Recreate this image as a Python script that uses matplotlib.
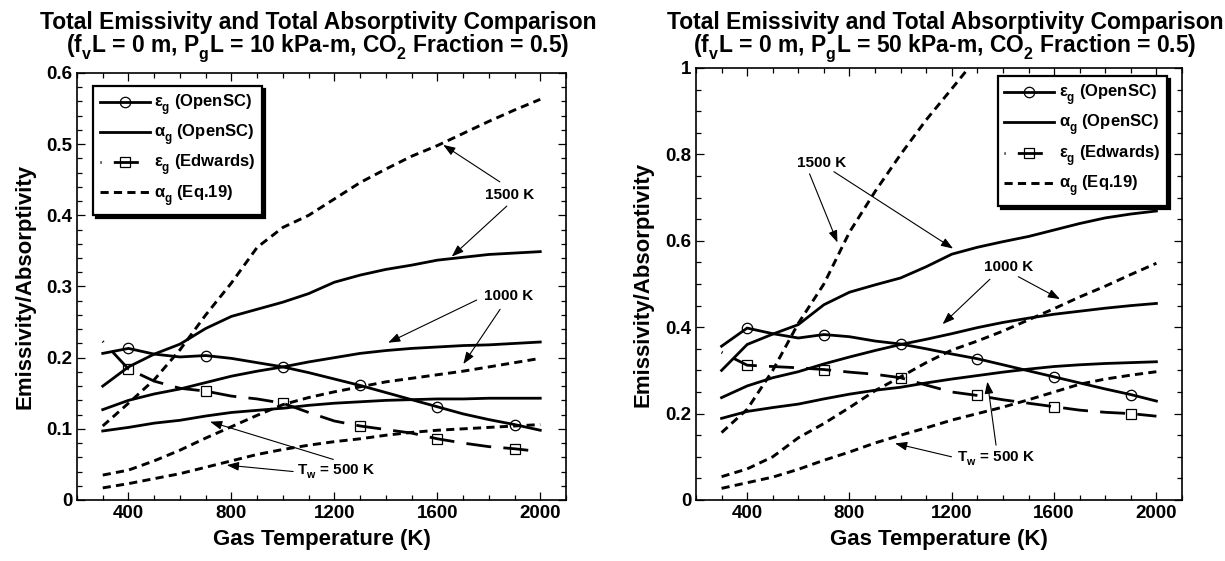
import matplotlib
matplotlib.use("Agg")
import matplotlib.pyplot as plt
from matplotlib.ticker import MultipleLocator, FuncFormatter

plt.rcParams["font.family"] = ["Liberation Sans", "DejaVu Sans"]
plt.rcParams["font.weight"] = "bold"
plt.rcParams["mathtext.fontset"] = "custom"
plt.rcParams["mathtext.rm"] = "Liberation Sans:bold"
plt.rcParams["mathtext.it"] = "Liberation Sans:bold"
plt.rcParams["mathtext.bf"] = "Liberation Sans:bold"
plt.rcParams["mathtext.sf"] = "Liberation Sans:bold"

# drop subscripts lower, as in the original figure
try:
    from matplotlib import _mathtext
    _mathtext.FontConstantsBase.subdrop = 0.9
    _mathtext.FontConstantsBase.sub1 = 0.6
except Exception:
    pass

# ---------------- data ----------------
T = [300, 400, 500, 600, 700, 800, 900, 1000, 1100, 1200,
     1300, 1400, 1500, 1600, 1700, 1800, 1900, 2000]
T_short = [300, 400, 500, 600, 700, 800, 900, 1000, 1100, 1200, 1300]

# left panel: PgL = 10 kPa-m
eps_osc_L = [0.206, 0.213, 0.205, 0.201, 0.203, 0.199, 0.193, 0.187, 0.179, 0.170,
             0.161, 0.151, 0.141, 0.131, 0.121, 0.113, 0.106, 0.098]
eps_edw_L = [0.223, 0.184, 0.167, 0.157, 0.153, 0.146, 0.142, 0.136, 0.123, 0.111,
             0.104, 0.099, 0.094, 0.086, 0.080, 0.075, 0.072, 0.068]
a1500_L = [0.160, 0.187, 0.205, 0.219, 0.241, 0.258, 0.268, 0.278, 0.290, 0.306,
           0.316, 0.324, 0.330, 0.337, 0.341, 0.345, 0.347, 0.349]
a1000_L = [0.127, 0.140, 0.149, 0.156, 0.165, 0.174, 0.181, 0.187, 0.194, 0.200,
           0.206, 0.210, 0.213, 0.215, 0.217, 0.218, 0.220, 0.222]
a500_L = [0.097, 0.102, 0.108, 0.112, 0.118, 0.123, 0.126, 0.129, 0.133, 0.136,
          0.138, 0.140, 0.141, 0.142, 0.142, 0.143, 0.143, 0.143]
eq1500_L = [0.104, 0.136, 0.169, 0.211, 0.260, 0.305, 0.355, 0.383, 0.400, 0.423,
            0.446, 0.465, 0.483, 0.498, 0.515, 0.532, 0.548, 0.563]
eq1000_L = [0.035, 0.042, 0.055, 0.070, 0.087, 0.103, 0.119, 0.134, 0.144, 0.152,
            0.159, 0.166, 0.171, 0.176, 0.181, 0.187, 0.193, 0.199]
eq500_L = [0.017, 0.023, 0.030, 0.037, 0.046, 0.055, 0.064, 0.071, 0.077, 0.082,
           0.086, 0.091, 0.095, 0.098, 0.100, 0.102, 0.104, 0.106]

# right panel: PgL = 50 kPa-m
eps_osc_R = [0.356, 0.398, 0.385, 0.375, 0.383, 0.378, 0.368, 0.361, 0.350, 0.338,
             0.327, 0.313, 0.299, 0.285, 0.271, 0.257, 0.244, 0.229]
eps_edw_R = [0.342, 0.312, 0.309, 0.306, 0.302, 0.296, 0.291, 0.283, 0.266, 0.250,
             0.242, 0.232, 0.224, 0.216, 0.208, 0.203, 0.200, 0.194]
a1500_R = [0.300, 0.360, 0.384, 0.406, 0.452, 0.481, 0.498, 0.514, 0.540, 0.569,
           0.585, 0.598, 0.610, 0.625, 0.640, 0.653, 0.662, 0.669]
a1000_R = [0.237, 0.264, 0.283, 0.297, 0.315, 0.331, 0.346, 0.360, 0.372, 0.385,
           0.399, 0.411, 0.421, 0.430, 0.437, 0.444, 0.450, 0.455]
a500_R = [0.189, 0.205, 0.214, 0.222, 0.234, 0.245, 0.254, 0.261, 0.271, 0.280,
          0.288, 0.296, 0.303, 0.309, 0.313, 0.316, 0.318, 0.320]
eq1500_R = [0.156, 0.210, 0.300, 0.409, 0.500, 0.620, 0.714, 0.800, 0.880, 0.952, 1.025]
eq1000_R = [0.054, 0.072, 0.100, 0.144, 0.177, 0.214, 0.253, 0.285, 0.318, 0.347,
            0.368, 0.391, 0.417, 0.443, 0.470, 0.495, 0.522, 0.548]
eq500_R = [0.027, 0.040, 0.053, 0.071, 0.092, 0.111, 0.132, 0.150, 0.167, 0.185,
           0.200, 0.215, 0.232, 0.250, 0.268, 0.280, 0.289, 0.297]

MARK_IDX = [1, 4, 7, 10, 13, 16]  # markers at 400, 700, ..., 1900 K

TITLE1 = "Total Emissivity and Total Absorptivity Comparison"
TITLE2_L = r"(f$_\mathrm{v}$L = 0 m, P$_\mathrm{g}$L = 10 kPa-m, CO$_\mathrm{2}$ Fraction = 0.5)"
TITLE2_R = r"(f$_\mathrm{v}$L = 0 m, P$_\mathrm{g}$L = 50 kPa-m, CO$_\mathrm{2}$ Fraction = 0.5)"

LAB_EPS_OSC = r"$\varepsilon_\mathrm{g}$ (OpenSC)"
LAB_ALP_OSC = r"$\alpha_\mathrm{g}$ (OpenSC)"
LAB_EPS_EDW = r"$\varepsilon_\mathrm{g}$ (Edwards)"
LAB_ALP_EQ = r"$\alpha_\mathrm{g}$ (Eq.19)"

LW = 2.0
LW_DASH = 2.1
DASH = (0, (2.8, 1.8))
LONGDASH = (8.6, (9.0, 4.4))


def draw_panel(ax, eps_osc, eps_edw, a_osc, eq, T_eq1500):
    ax.plot(T, eps_osc, color="k", lw=LW, marker="o", markevery=MARK_IDX, ms=7.5,
            mfc="none", mec="k", mew=0.9, label=LAB_EPS_OSC)
    for i, a in enumerate(a_osc):
        ax.plot(T, a, color="k", lw=LW, label=LAB_ALP_OSC if i == 0 else None)
    ax.plot(T, eps_edw, color="k", lw=LW, ls=LONGDASH, marker="s", markevery=MARK_IDX,
            ms=7, mfc="none", mec="k", mew=0.9, label=LAB_EPS_EDW)
    for i, (tt, e) in enumerate(zip([T_eq1500, T, T], eq)):
        ax.plot(tt, e, color="k", lw=LW_DASH, ls=DASH, label=LAB_ALP_EQ if i == 0 else None)

    ax.set_xlim(200, 2100)
    ax.xaxis.set_major_locator(MultipleLocator(400))
    ax.xaxis.set_minor_locator(MultipleLocator(100))
    ax.yaxis.set_major_formatter(FuncFormatter(lambda v, p: "%g" % round(v, 3)))
    ax.tick_params(which="both", direction="in", top=True, right=True, width=0.9,
                   labelsize=13.5)
    ax.tick_params(which="major", length=6)
    ax.tick_params(which="minor", length=3.5)
    for s in ax.spines.values():
        s.set_linewidth(1.2)
    for lab in ax.get_xticklabels() + ax.get_yticklabels():
        lab.set_fontweight("bold")
    ax.set_xlabel("Gas Temperature (K)", fontsize=16, fontweight="bold", labelpad=5)
    ax.set_ylabel("Emissivity/Absorptivity", fontsize=16, fontweight="bold", labelpad=8)


def arrow(ax, tail, head):
    ax.annotate("", xy=head, xytext=tail,
                arrowprops=dict(arrowstyle="-|>,head_length=0.6,head_width=0.22",
                                color="k", lw=0.8, mutation_scale=12,
                                shrinkA=0, shrinkB=0))


def legend(ax, loc, anchor):
    leg = ax.legend(loc=loc, bbox_to_anchor=anchor, borderaxespad=0, fancybox=False,
                    edgecolor="k", framealpha=1, handlelength=3.0, handletextpad=0.25,
                    labelspacing=0.3, borderpad=0.4, numpoints=1,
                    prop={"size": 12, "weight": "bold"},
                    shadow={"facecolor": "k", "edgecolor": "k", "alpha": 1})
    leg.get_frame().set_linewidth(1.6)
    return leg


fig = plt.figure(figsize=(12.25, 5.61), dpi=100)
axL = fig.add_axes([77 / 1225, 61 / 561, 489 / 1225, 427 / 561])
axR = fig.add_axes([696 / 1225, 61 / 561, 486 / 1225, 432 / 561])

# ----- left panel -----
draw_panel(axL, eps_osc_L, eps_edw_L, [a1500_L, a1000_L, a500_L],
           [eq1500_L, eq1000_L, eq500_L], T)
axL.set_ylim(0, 0.6)
axL.yaxis.set_major_locator(MultipleLocator(0.1))
axL.yaxis.set_minor_locator(MultipleLocator(0.02))
legend(axL, "upper left", (0.033, 0.97))

axL.text(1880, 0.428, "1500 K", ha="center", va="center", fontsize=11, fontweight="bold")
arrow(axL, (1843, 0.447), (1623, 0.499))
arrow(axL, (1870, 0.413), (1656, 0.342))
axL.text(1876, 0.287, "1000 K", ha="center", va="center", fontsize=11, fontweight="bold")
arrow(axL, (1753, 0.281), (1409, 0.221))
arrow(axL, (1844, 0.268), (1701, 0.191))
axL.text(1053, 0.040, r"T$_\mathrm{w}$ = 500 K", ha="left", va="center",
         fontsize=11, fontweight="bold")
arrow(axL, (1040, 0.040), (782, 0.049))
arrow(axL, (1196, 0.057), (717, 0.110))

# ----- right panel -----
draw_panel(axR, eps_osc_R, eps_edw_R, [a1500_R, a1000_R, a500_R],
           [eq1500_R, eq1000_R, eq500_R], T_short)
axR.set_ylim(0, 1)
axR.yaxis.set_major_locator(MultipleLocator(0.2))
axR.yaxis.set_minor_locator(MultipleLocator(0.05))
legend(axR, "upper right", (0.969, 0.981))

axR.text(691, 0.781, "1500 K", ha="center", va="center", fontsize=11, fontweight="bold")
arrow(axR, (644, 0.755), (753, 0.596))
arrow(axR, (739, 0.760), (1205, 0.582))
axR.text(1421, 0.539, "1000 K", ha="center", va="center", fontsize=11, fontweight="bold")
arrow(axR, (1349, 0.511), (1164, 0.407))
arrow(axR, (1460, 0.517), (1623, 0.465))
axR.text(1219, 0.0965, r"T$_\mathrm{w}$ = 500 K", ha="left", va="center",
         fontsize=11, fontweight="bold")
arrow(axR, (1199, 0.100), (978, 0.131))
arrow(axR, (1373, 0.127), (1339, 0.274))

# ----- titles -----
for xc, t2 in [(318 / 1225, TITLE2_L), (945 / 1225, TITLE2_R)]:
    fig.text(xc, 1 - 29 / 561, TITLE1, ha="center", va="baseline",
             fontsize=16.5, fontweight="bold")
    fig.text(xc, 1 - 52 / 561, t2, ha="center", va="baseline",
             fontsize=16.5, fontweight="bold")

fig.savefig("out.png", dpi=100)
plt.close(fig)
print("saved out.png")
